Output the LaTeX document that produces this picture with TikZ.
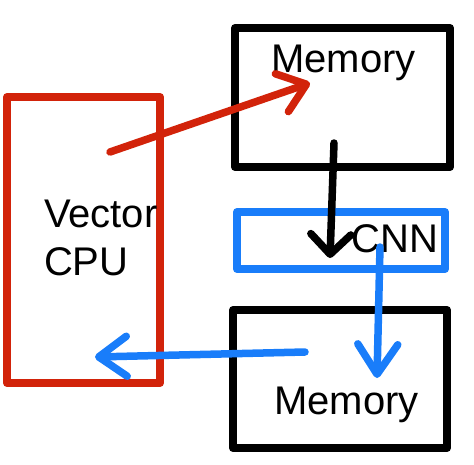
\documentclass[tikz,border=0pt]{standalone}
\usepackage{fontspec}
\setmainfont{Liberation Sans}
\usetikzlibrary{arrows.meta}
\definecolor{penred}{RGB}{210,35,10}
\definecolor{penblue}{RGB}{25,125,250}

\begin{document}
\begin{tikzpicture}
[x=1pt, y=-1pt, line width=8pt, line join=round, font=\fontsize{40}{48}\selectfont,
box/.style={rectangle, draw, inner sep=0pt},
lbl/.style={inner sep=0pt, anchor=base},
flow/.style={line width=7.5pt, line cap=round, -{Straight Barb[length=#1, width=40pt, round]}},
flow/.default=24pt]

\useasboundingbox (0,0) rectangle (474,464);

% boxes
\node[box, draw=penred, minimum width=153pt, minimum height=286pt] (cpu) at (83.5,240) {};
\node[box, minimum width=215pt, minimum height=139pt] (mem1) at (342.5,97.5) {};
\node[box, draw=penblue, minimum width=208pt, minimum height=57pt] (cnn) at (341,240.5) {};
\node[box, minimum width=214pt, minimum height=138pt] (mem2) at (340,379) {};

% labels
\node[lbl, anchor=base west] (vec) at (40,227) {Vector};
\node[lbl, anchor=base west] (cpulbl) at (40,275) {CPU};
\node[lbl] (mem1lbl) at (343.5,72) {Memory};
\node[lbl] (cnnlbl) at (395,252) {CNN};
\node[lbl] (mem2lbl) at (346.5,414) {Memory};

% arrow ends
\coordinate (cpuout) at (110,152);
\coordinate (mem1in) at (310,83);
\coordinate (mem1out) at (334,143);
\coordinate (cnnin) at (330,258);
\coordinate (cnnout) at (380,247);
\coordinate (mem2in) at (377,378);
\coordinate (mem2out) at (305,352);
\coordinate (cpuin) at (95,357);

\draw[flow=26pt, draw=penred] (cpuout) -- (mem1in);
\draw[flow=20pt] (mem1out) -- (cnnin);
\draw[flow=30pt, draw=penblue] (cnnout) -- (mem2in);
\draw[flow=28pt, draw=penblue] (mem2out) -- (cpuin);
\end{tikzpicture}
\end{document}
